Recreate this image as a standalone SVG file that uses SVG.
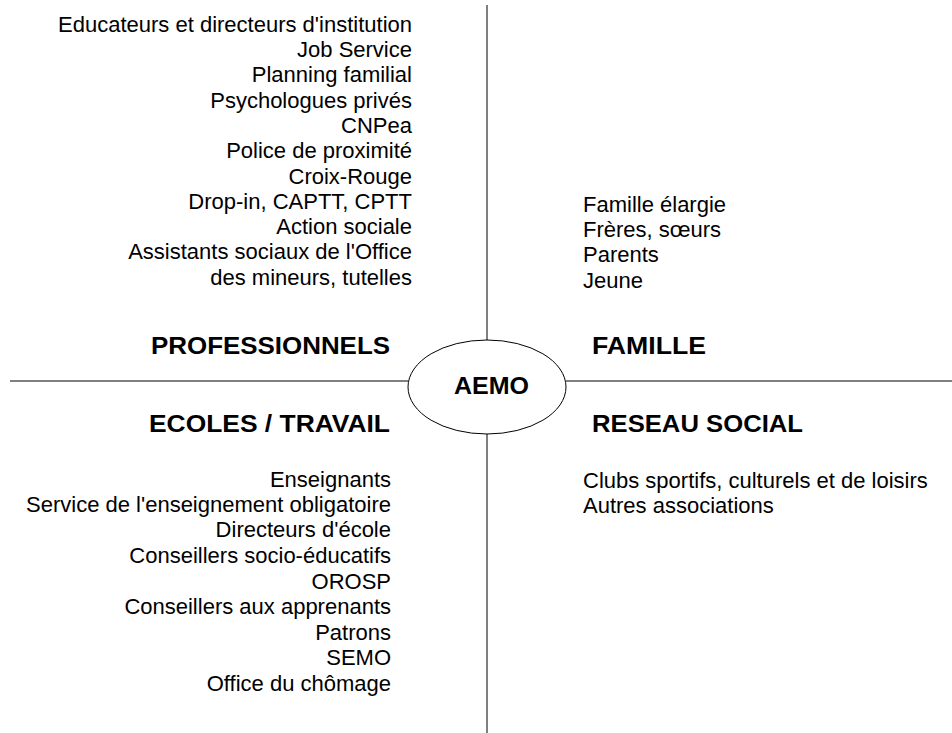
<svg xmlns="http://www.w3.org/2000/svg" width="952" height="733" viewBox="0 0 952 733">
<style>
.t{font-family:"Liberation Sans",Arial,sans-serif;font-size:22px;fill:#000}
.r{text-anchor:end}
.h{font-family:"Liberation Sans",Arial,sans-serif;font-size:23px;font-weight:bold;fill:#000}
.ln{stroke:#000;stroke-width:1;fill:none}
</style>
<rect width="952" height="733" fill="#fff"/>
<g id="connectors">
<line class="ln" x1="487" y1="5" x2="487" y2="340"/>
<line class="ln" x1="487" y1="434" x2="487" y2="733"/>
<line class="ln" x1="10" y1="381" x2="408" y2="381"/>
<line class="ln" x1="566" y1="381" x2="952" y2="381"/>
</g>
<g id="aemo">
<ellipse class="ln" cx="487" cy="387" rx="79" ry="47"/>
<text class="h" x="454" y="394" textLength="75" lengthAdjust="spacingAndGlyphs">AEMO</text>
</g>
<g id="professionnels">
<text class="h" x="151" y="354" textLength="239" lengthAdjust="spacingAndGlyphs">PROFESSIONNELS</text>
<text class="t r" x="412" y="32">Educateurs et directeurs d'institution</text>
<text class="t r" x="412" y="57">Job Service</text>
<text class="t r" x="412" y="82">Planning familial</text>
<text class="t r" x="412" y="108">Psychologues privés</text>
<text class="t r" x="412" y="133">CNPea</text>
<text class="t r" x="412" y="158">Police de proximité</text>
<text class="t r" x="412" y="184">Croix-Rouge</text>
<text class="t r" x="412" y="209">Drop-in, CAPTT, CPTT</text>
<text class="t r" x="412" y="234">Action sociale</text>
<text class="t r" x="412" y="259">Assistants sociaux de l'Office</text>
<text class="t r" x="412" y="285">des mineurs, tutelles</text>
</g>
<g id="famille">
<text class="h" x="592" y="354" textLength="114" lengthAdjust="spacingAndGlyphs">FAMILLE</text>
<text class="t" x="583" y="212">Famille élargie</text>
<text class="t" x="583" y="237">Frères, sœurs</text>
<text class="t" x="583" y="262">Parents</text>
<text class="t" x="583" y="288">Jeune</text>
</g>
<g id="ecoles">
<text class="h" x="149" y="432" textLength="241" lengthAdjust="spacingAndGlyphs">ECOLES / TRAVAIL</text>
<text class="t r" x="391" y="487">Enseignants</text>
<text class="t r" x="391" y="512">Service de l'enseignement obligatoire</text>
<text class="t r" x="391" y="537">Directeurs d'école</text>
<text class="t r" x="391" y="563">Conseillers socio-éducatifs</text>
<text class="t r" x="391" y="589">OROSP</text>
<text class="t r" x="391" y="614">Conseillers aux apprenants</text>
<text class="t r" x="391" y="640">Patrons</text>
<text class="t r" x="391" y="665">SEMO</text>
<text class="t r" x="391" y="691">Office du chômage</text>
</g>
<g id="reseau">
<text class="h" x="592" y="432" textLength="211" lengthAdjust="spacingAndGlyphs">RESEAU SOCIAL</text>
<text class="t" x="583" y="488">Clubs sportifs, culturels et de loisirs</text>
<text class="t" x="583" y="513">Autres associations</text>
</g>
</svg>
